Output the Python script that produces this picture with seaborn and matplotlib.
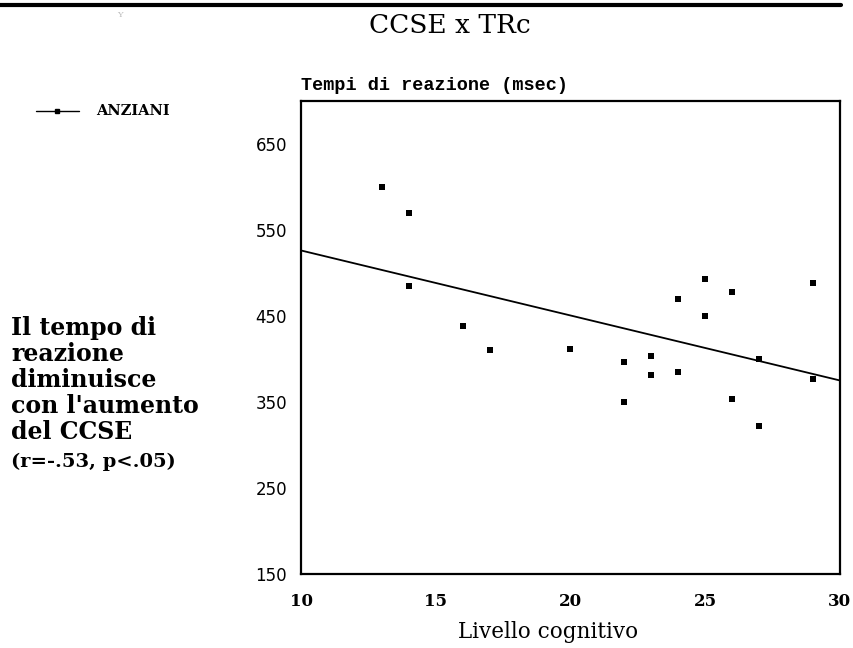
import numpy as np
import pandas as pd
import matplotlib
matplotlib.use("Agg")
import matplotlib.pyplot as plt
import seaborn as sns

# data
livello = [13, 14, 14, 16, 17, 20, 22, 22, 23, 23, 24, 24, 25, 25, 26, 26, 27, 27, 29, 29]
tempi = [600, 570, 485, 438, 411, 412, 397, 350, 404, 381, 470, 385, 493, 450, 478, 354, 400, 322, 488, 377]
y_ticks = [150, 250, 350, 450, 550, 650]
x_ticks = [10, 15, 20, 25, 30]

df = pd.DataFrame({"livello": livello, "tempi": tempi})

sns.set_theme(style="white")
plt.rcParams["font.family"] = ["DejaVu Serif"]
plt.rcParams["text.color"] = "black"

fig = plt.figure(figsize=(8.54, 6.48), dpi=100)
ax = fig.add_axes([0.3525, 0.1142, 0.631, 0.7299])
ax.set_xlim(10, 30)
ax.set_ylim(150, 700)

# regression line over the full x range (truncate=False uses current limits)
sns.regplot(data=df, x="livello", y="tempi", ax=ax, ci=None, truncate=False,
            marker="s", color="black",
            scatter_kws={"s": 16, "linewidths": 0, "alpha": 1},
            line_kws={"linewidth": 1.3})

ax.set_xlim(10, 30)
ax.set_ylim(150, 700)
ax.set_xticks(x_ticks)
ax.set_yticks(y_ticks)
ax.set_xlabel("")
ax.set_ylabel("")
ax.tick_params(axis="both", direction="in", length=6, width=1.2, colors="black")
ax.tick_params(axis="x", pad=14)
ax.tick_params(axis="y", pad=10)
for lab in ax.get_yticklabels():
    lab.set_family("DejaVu Sans")
    lab.set_fontsize(12)
for lab in ax.get_xticklabels():
    lab.set_family("DejaVu Serif")
    lab.set_fontsize(12)
    lab.set_fontweight("bold")
for sp in ax.spines.values():
    sp.set_visible(True)
    sp.set_color("black")
    sp.set_linewidth(1.6)

# texts around the plot
fig.text(0.527, 0.961, "CCSE x TRc", ha="center", va="center",
         fontsize=19, family="DejaVu Serif")
fig.text(0.353, 0.868, "Tempi di reazione (msec)", ha="left", va="center",
         fontsize=13.3, fontweight="bold", family="Liberation Mono")
fig.text(0.642, 0.025, "Livello cognitivo", ha="center", va="center",
         fontsize=15.5, family="DejaVu Serif")

# legend-like key on the left
fig.lines.append(plt.Line2D([0.042, 0.092], [0.829, 0.829], transform=fig.transFigure,
                            color="black", linewidth=1))
fig.lines.append(plt.Line2D([0.067], [0.829], transform=fig.transFigure,
                            color="black", marker="s", markersize=3, linestyle="none"))
fig.text(0.113, 0.829, "ANZIANI", ha="left", va="center", fontsize=10.5,
         fontweight="bold", family="DejaVu Serif")

note = "Il tempo di\nreazione\ndiminuisce\ncon l'aumento\ndel CCSE"
fig.text(0.013, 0.512, note, ha="left", va="top", fontsize=17,
         fontweight="bold", family="DejaVu Serif", linespacing=1.1)
fig.text(0.013, 0.287, "(r=-.53, p<.05)", ha="left", va="center", fontsize=14,
         fontweight="bold", family="DejaVu Serif")

fig.text(0.14, 0.977, "Y", ha="center", va="center", fontsize=6, color="#bbbbbb")

# rule across the top of the page
fig.lines.append(plt.Line2D([0.0, 0.985], [0.993, 0.993], transform=fig.transFigure,
                            color="black", linewidth=3))

fig.savefig("out.png", dpi=100, facecolor="white")
